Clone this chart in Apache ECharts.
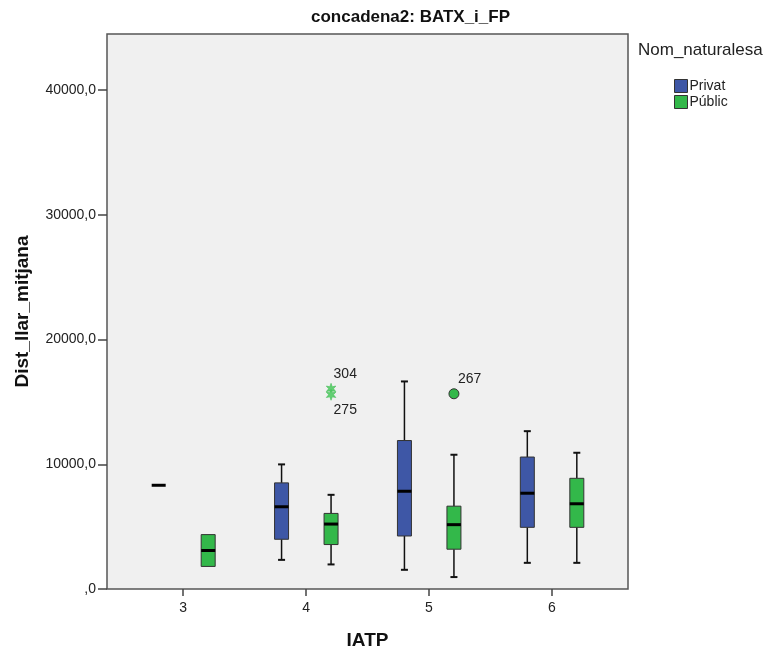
<!DOCTYPE html>
<html>
<head>
<meta charset="utf-8">
<script src="https://cdn.jsdelivr.net/npm/echarts@6/dist/echarts.min.js"></script>
<style>
html,body{margin:0;padding:0;background:#fff;}
#chart{width:768px;height:655px;}
</style>
</head>
<body>
<div id="chart"></div>
<script>
// ---- data ----
const categories = [3, 4, 5, 6];
const seriesNames = ['Privat', 'Públic'];
// [min, Q1, median, Q3, max] per category
const privatBoxes = [
  [8317, 8317, 8317, 8317, 8317],
  [2336, 3987, 6594, 8508, 9991],
  [1539, 4250, 7838, 11905, 16642],
  [2097, 4944, 7679, 10581, 12655]
];
const publicBoxes = [
  [1810, 1810, 3086, 4362, 4362],
  [1970, 3564, 5207, 6060, 7551],
  [957, 3190, 5159, 6642, 10765],
  [2097, 4944, 6834, 8875, 10924]
];
// outliers: category, value, case label
const extremeCats = [4, 4];
const extremeValues = [16052, 15573];
const extremeLabels = ['304', '275'];
const outlierCats = [5];
const outlierValues = [15653];
const outlierLabels = ['267'];
const yTicks = [0, 10000, 20000, 30000, 40000];

const colors = {Privat: '#3e57a6', 'Públic': '#33b84a'};
const offsets = {Privat: -24.5, 'Públic': 25};

function boxData(boxes) {
  return boxes.map((b, i) => [categories[i]].concat(b));
}

function makeBoxRender(name) {
  return function (params, api) {
    const c = api.value(0);
    const x0 = api.coord([c, 0])[0] + offsets[name];
    const y = k => api.coord([c, api.value(k)])[1];
    const yMin = y(1), yQ1 = y(2), yMed = y(3), yQ3 = y(4), yMax = y(5);
    const hw = 7, cap = 3.5;
    const children = [];
    const ls = {stroke: '#111', lineWidth: 1.5};
    if (yMax < yQ3 - 0.5) {
      children.push({type: 'line', shape: {x1: x0, y1: yQ3, x2: x0, y2: yMax}, style: ls});
      children.push({type: 'line', shape: {x1: x0 - cap, y1: yMax, x2: x0 + cap, y2: yMax}, style: {stroke: '#111', lineWidth: 2}});
    }
    if (yMin > yQ1 + 0.5) {
      children.push({type: 'line', shape: {x1: x0, y1: yQ1, x2: x0, y2: yMin}, style: ls});
      children.push({type: 'line', shape: {x1: x0 - cap, y1: yMin, x2: x0 + cap, y2: yMin}, style: {stroke: '#111', lineWidth: 2}});
    }
    if (yQ1 - yQ3 > 0.5) {
      children.push({type: 'rect', shape: {x: x0 - hw, y: yQ3, width: 2 * hw, height: yQ1 - yQ3},
        style: {fill: colors[name], stroke: '#333', lineWidth: 1}});
    }
    children.push({type: 'line', shape: {x1: x0 - hw, y1: yMed, x2: x0 + hw, y2: yMed}, style: {stroke: '#000', lineWidth: 3}});
    return {type: 'group', children: children};
  };
}

function starPoints(cx, cy, r1, r2, n) {
  const pts = [];
  for (let i = 0; i < 2 * n; i++) {
    const r = i % 2 === 0 ? r1 : r2;
    const a = -Math.PI / 2 + i * Math.PI / n;
    pts.push([cx + r * Math.cos(a), cy + r * Math.sin(a)]);
  }
  return pts;
}

const extremeData = extremeCats.map((c, i) => [c, extremeValues[i], extremeLabels[i]]);
const outlierData = outlierCats.map((c, i) => [c, outlierValues[i], outlierLabels[i]]);

const option = {
  animation: false,
  backgroundColor: '#ffffff',
  textStyle: {fontFamily: 'Liberation Sans, Arial, sans-serif'},
  title: [
    {text: 'concadena2: BATX_i_FP', left: 306, top: 4,
      textStyle: {fontSize: 17, fontWeight: 'bold', color: '#111', fontFamily: 'Liberation Sans'}},
    {text: 'Nom_naturalesa', left: 633, top: 37,
      textStyle: {fontSize: 17, fontWeight: 'normal', color: '#222', fontFamily: 'Liberation Sans'}}
  ],
  legend: {
    orient: 'vertical', left: 674, top: 79, padding: 0, itemGap: 2,
    itemWidth: 13, itemHeight: 13, icon: 'rect',
    data: seriesNames,
    itemStyle: {borderColor: '#333', borderWidth: 1},
    textStyle: {fontSize: 14, color: '#222', fontFamily: 'Liberation Sans', padding: [0, 0, 0, -3]}
  },
  grid: {left: 107, right: 140, top: 34, bottom: 63, show: true,
    backgroundColor: '#f0f0f0', borderColor: '#555', borderWidth: 1.5},
  xAxis: {
    type: 'value', min: 2.38, max: 6.62,
    name: 'IATP', nameLocation: 'middle', nameGap: 42,
    nameTextStyle: {fontSize: 19, fontWeight: 'bold', color: '#111', fontFamily: 'Liberation Sans'},
    splitLine: {show: false},
    axisLine: {show: false},
    axisTick: {show: true, length: 7, customValues: categories, lineStyle: {color: '#444', width: 1.5}},
    axisLabel: {customValues: categories, fontSize: 14, color: '#222', margin: 12,
      formatter: v => (Number.isInteger(v) ? String(v) : '')}
  },
  yAxis: {
    type: 'value', min: 0, max: 44500,
    name: 'Dist_llar_mitjana', nameLocation: 'middle', nameGap: 75, nameRotate: 90,
    nameTextStyle: {fontSize: 19, fontWeight: 'bold', color: '#111', fontFamily: 'Liberation Sans'},
    splitLine: {show: false},
    axisLine: {show: false},
    axisTick: {show: true, length: 9, customValues: yTicks, lineStyle: {color: '#444', width: 1.5}},
    axisLabel: {customValues: yTicks, fontSize: 14, color: '#222', margin: 11,
      formatter: v => (v === 0 ? ',0' : v + ',0')}
  },
  series: [
    {name: 'Privat', type: 'custom', data: boxData(privatBoxes), renderItem: makeBoxRender('Privat'),
      itemStyle: {color: colors.Privat}, encode: {x: 0, y: [1, 2, 3, 4, 5]}, clip: false},
    {name: 'Públic', type: 'custom', data: boxData(publicBoxes), renderItem: makeBoxRender('Públic'),
      itemStyle: {color: colors['Públic']}, encode: {x: 0, y: [1, 2, 3, 4, 5]}, clip: false},
    {name: 'extremes', type: 'custom', data: extremeData, encode: {x: 0, y: 1},
      renderItem: function (params, api) {
        const p = api.coord([api.value(0), api.value(1)]);
        const x0 = p[0] + offsets['Públic'];
        const up = params.dataIndex === 0;
        return {type: 'group', children: [
          {type: 'polygon', shape: {points: starPoints(x0, p[1], 5.5, 2.4, 6)},
            style: {fill: '#62cf72', stroke: '#45bd58', lineWidth: 0.6}},
          {type: 'text', x: x0 + 2.5, y: up ? p[1] - 15 : p[1] + 15,
            style: {text: api.value(2), fontSize: 14, fill: '#222', fontFamily: 'Liberation Sans',
              verticalAlign: 'middle', align: 'left'}}
        ]};
      }},
    {name: 'outliers', type: 'custom', data: outlierData, encode: {x: 0, y: 1},
      renderItem: function (params, api) {
        const p = api.coord([api.value(0), api.value(1)]);
        const x0 = p[0] + offsets['Públic'];
        return {type: 'group', children: [
          {type: 'circle', shape: {cx: x0, cy: p[1], r: 5},
            style: {fill: colors['Públic'], stroke: '#333', lineWidth: 1}},
          {type: 'text', x: x0 + 4, y: p[1] - 15,
            style: {text: api.value(2), fontSize: 14, fill: '#222', fontFamily: 'Liberation Sans',
              verticalAlign: 'middle', align: 'left'}}
        ]};
      }}
  ]
};

const chart = echarts.init(document.getElementById('chart'), null, {renderer: 'canvas'});
chart.setOption(option);
</script>
</body>
</html>
